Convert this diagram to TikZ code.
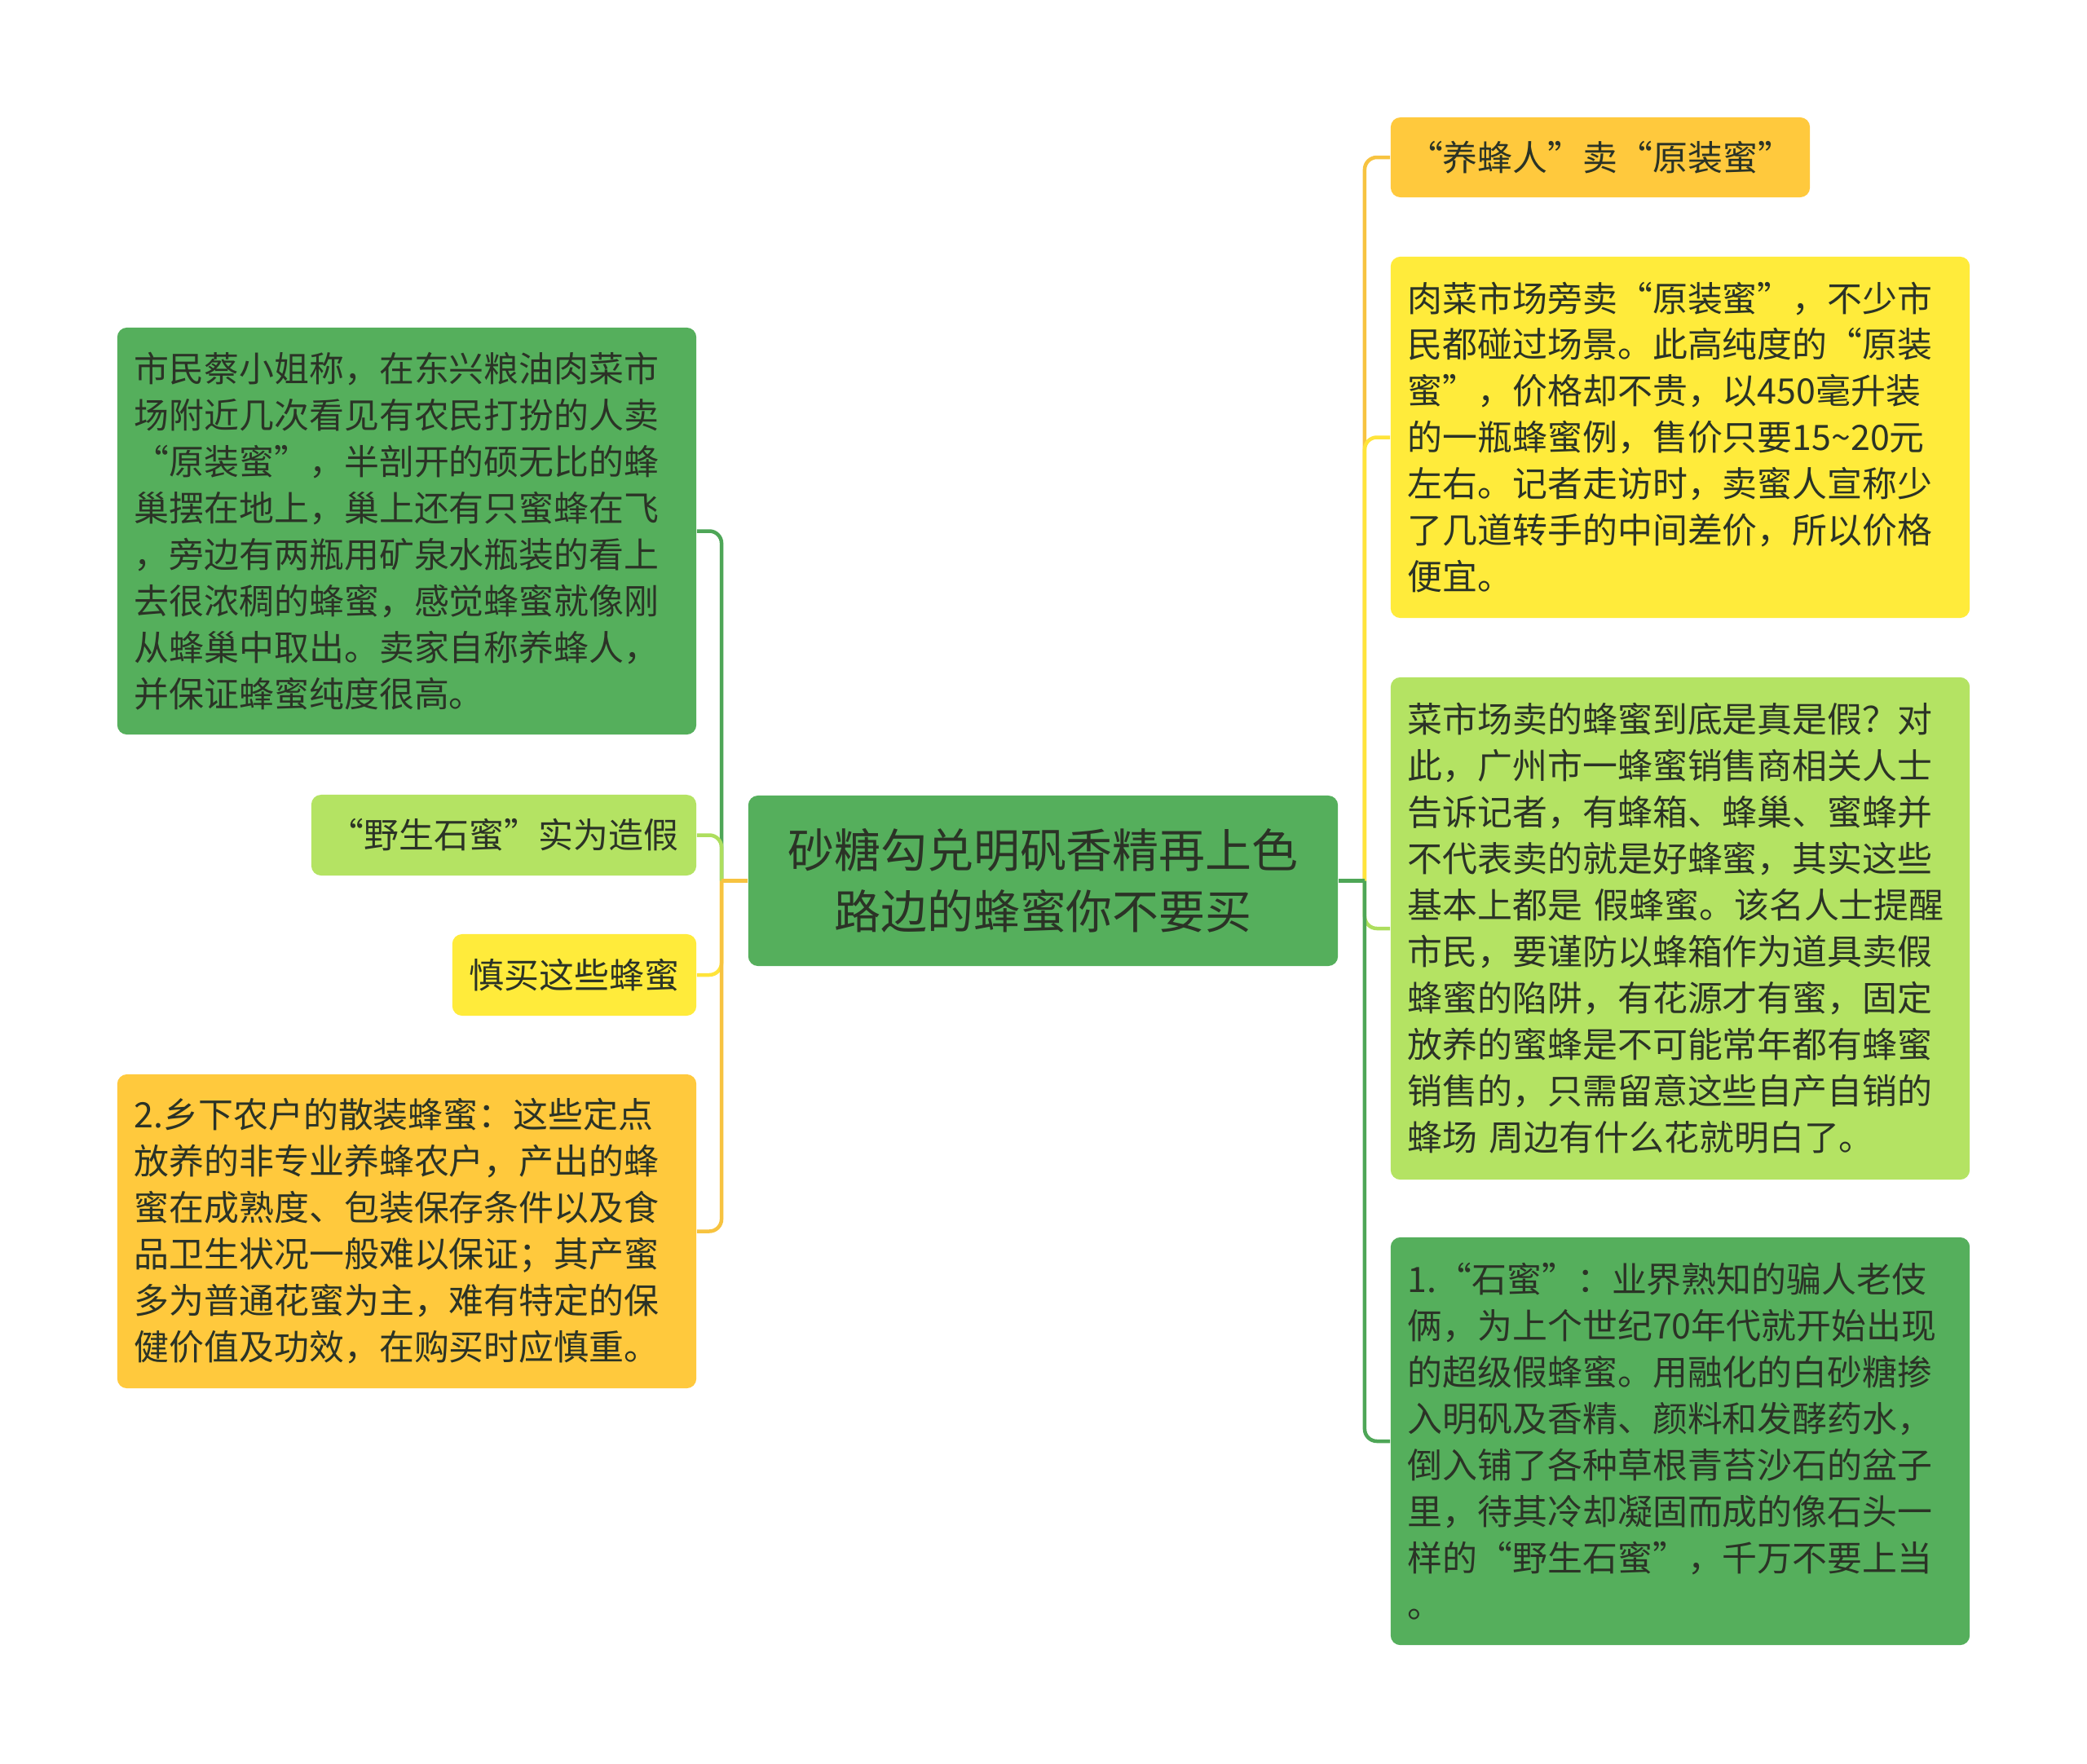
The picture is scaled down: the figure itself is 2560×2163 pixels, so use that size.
\documentclass[tikz,border=0pt]{standalone}
\usepackage{fontspec}
\setmainfont{Noto Sans CJK SC}
\definecolor{mgreen}{HTML}{55AF5C}
\definecolor{mlime}{HTML}{B4E363}
\definecolor{myellow}{HTML}{FFEB3B}
\definecolor{morange}{HTML}{FFC93D}
\definecolor{lgreen}{HTML}{4EA657}
\definecolor{llime}{HTML}{ADDE5E}
\definecolor{lyellow}{HTML}{FFE43A}
\definecolor{lorange}{HTML}{F7C340}
\definecolor{mtext}{HTML}{2B3326}

\begin{document}
\begin{tikzpicture}[x=0.01cm,y=-0.01cm,
  box/.style={rectangle,rounded corners=0.12cm,inner xsep=0.21cm,inner ysep=0pt,text=mtext,align=left,font=\fontsize{12.2pt}{16.2pt}\selectfont},
  wide/.style={box,minimum width=7.1cm,text width=6.68cm},
  link/.style={line width=0.045cm,rounded corners=0.15cm}]
\useasboundingbox (0,0) rectangle (2560,2163);

\node[box,fill=mgreen,minimum width=7.23cm,minimum height=2.09cm,align=center,font=\fontsize{16.2pt}{21.3pt}\selectfont] (root) at (1279.5,1080.5) {砂糖勾兑明矾香精再上色\\路边的蜂蜜你不要买};

\node[wide,fill=mgreen,minimum height=4.99cm] (cai) at (499,651.5) {市民蔡小姐称，在东兴粮油肉菜市\\
场附近几次看见有农民打扮的人卖\\
“原装蜜”，半剖开的硕无比的蜂\\
巢摆在地上，巢上还有只蜜蜂在飞\\
，旁边有两瓶用矿泉水瓶装的看上\\
去很浓稠的蜂蜜，感觉蜂蜜就像刚\\
从蜂巢中取出。卖家自称养蜂人，\\
并保证蜂蜜纯度很高。};
\node[box,fill=mlime,minimum width=4.72cm,minimum height=0.99cm] (wild) at (618,1024.5) {“野生石蜜”实为造假};
\node[box,fill=myellow,minimum width=2.99cm,minimum height=1.0cm] (careful) at (704.5,1196) {慎买这些蜂蜜};
\node[wide,fill=morange,minimum height=3.85cm] (bulk) at (499,1510.5) {2.乡下农户的散装蜂蜜：这些定点\\
放养的非专业养蜂农户，产出的蜂\\
蜜在成熟度、包装保存条件以及食\\
品卫生状况一般难以保证；其产蜜\\
多为普通花蜜为主，难有特定的保\\
健价值及功效，在购买时应慎重。};

\node[box,fill=morange,minimum width=5.14cm,minimum height=0.98cm] (seller) at (1963,193) {“养蜂人”卖“原装蜜”};
\node[wide,fill=myellow,minimum height=4.43cm] (market) at (2061,536.5) {肉菜市场旁卖“原装蜜”，不少市\\
民都碰过场景。此高纯度的“原装\\
蜜”，价格却不贵，以450毫升装\\
的一瓶蜂蜜例，售价只要15\textasciitilde20元\\
左右。记者走访时，卖蜜人宣称少\\
了几道转手的中间差价，所以价格\\
便宜。};
\node[wide,fill=mlime,minimum height=6.16cm] (dealer) at (2061,1139) {菜市场卖的蜂蜜到底是真是假？对\\
此，广州市一蜂蜜销售商相关人士\\
告诉记者，有蜂箱、蜂巢、蜜蜂并\\
不代表卖的就是好蜂蜜，其实这些\\
基本上都是 假蜂蜜。该名人士提醒\\
市民，要谨防以蜂箱作为道具卖假\\
蜂蜜的陷阱，有花源才有蜜，固定\\
放养的蜜蜂是不可能常年都有蜂蜜\\
销售的，只需留意这些自产自销的\\
蜂场 周边有什么花就明白了。};
\node[wide,fill=mgreen,minimum height=5.0cm] (stone) at (2061,1768) {1.“石蜜”：业界熟知的骗人老伎\\
俩，为上个世纪70年代就开始出现\\
的超级假蜂蜜。用融化的白砂糖掺\\
入明矾及香精、颜料和发酵药水，\\
倒入铺了各种草根青苔沙石的盆子\\
里，待其冷却凝固而成的像石头一\\
样的“野生石蜜”，千万不要上当\\
。};

\coordinate (lbus) at ([xshift=-0.32cm]root.west);
\coordinate (rbus) at ([xshift=0.32cm]root.east);

\draw[link,lgreen] (lbus) |- (cai.east);
\draw[link,llime] (lbus) |- (wild.east);
\draw[link,lyellow] (lbus) |- (careful.east);
\draw[link,lorange] (lbus) |- (bulk.east);
\draw[link,lorange] (root.west) -- (lbus);

\draw[link,lorange] (rbus) |- (seller.west);
\draw[link,lyellow] (rbus) |- (market.west);
\draw[link,llime] (rbus) |- (dealer.west);
\draw[link,lgreen] (rbus) |- (stone.west);
\draw[link,lgreen] (root.east) -- (rbus);
\end{tikzpicture}
\end{document}
